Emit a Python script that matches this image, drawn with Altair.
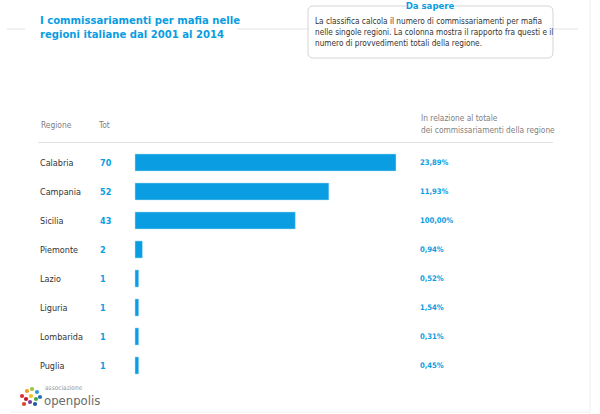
import altair as alt
import pandas as pd

regioni = ["Calabria", "Campania", "Sicilia", "Piemonte", "Lazio", "Liguria", "Lombarida", "Puglia"]
tot = [70, 52, 43, 2, 1, 1, 1, 1]
percentuali = ["23,89%", "11,93%", "100,00%", "0,94%", "0,52%", "1,54%", "0,31%", "0,45%"]

title_lines = ["I commissariamenti per mafia nelle", "regioni italiane dal 2001 al 2014"]
info_lines = [
    "La classifica calcola il numero di commissariamenti per mafia",
    "nelle singole regioni. La colonna mostra il rapporto fra questi e il",
    "numero di provvedimenti totali della regione.",
]
header_pct = ["In relazione al totale", "dei commissariamenti della regione"]

df = pd.DataFrame({"regione": regioni, "tot": tot, "pct": percentuali})

BLUE = "#0a9de2"
NARROW = "DejaVu Sans Condensed, Liberation Sans Narrow, sans-serif"

base = alt.Chart(df)
y = alt.Y("regione:N", sort=regioni, axis=None,
          scale=alt.Scale(domain=regioni, range=[148, 380], paddingInner=0.41, paddingOuter=0.205))

bars = base.mark_bar(color=BLUE, stroke="#bfe6fa", strokeWidth=0.5).encode(
    x=alt.X("tot:Q", axis=None, scale=alt.Scale(domain=[0, 70], range=[135, 396])),
    y=y,
)
lab_reg = base.mark_text(align="left", baseline="middle", font=NARROW, fontSize=9, color="#333333").encode(
    x=alt.value(40), y=y, text="regione:N")
lab_tot = base.mark_text(align="left", baseline="middle", font=NARROW, fontSize=9, fontWeight="bold", color=BLUE).encode(
    x=alt.value(100), y=y, text="tot:Q")
lab_pct = base.mark_text(align="left", baseline="middle", font=NARROW, fontSize=7.6, fontWeight="bold", color=BLUE).encode(
    x=alt.value(420), y=y, text="pct:N")

one = alt.Chart(pd.DataFrame({"a": [0]}))

def txt(text, x, yy, size, color, weight="normal", align="left"):
    return one.mark_text(align=align, baseline="middle", font=NARROW, fontSize=size, color=color,
                         fontWeight=weight).encode(
        x=alt.value(x), y=alt.value(yy), text=alt.value(text))

def rule(x1, x2, y1, y2, color="#e3e3e3", w=1):
    return one.mark_rule(color=color, strokeWidth=w).encode(
        x=alt.value(x1), x2=alt.value(x2), y=alt.value(y1), y2=alt.value(y2))

layers = [
    rule(7, 25, 29, 29),
    rule(237, 578, 29, 29),
    one.mark_rect(fill="white", stroke="#d4d4d4", strokeWidth=1, cornerRadius=5).encode(
        x=alt.value(308), x2=alt.value(553), y=alt.value(6), y2=alt.value(58)),
    one.mark_rect(fill="white").encode(x=alt.value(406), x2=alt.value(455), y=alt.value(0), y2=alt.value(12)),
    txt("Da sapere", 430, 6, 9.5, BLUE, weight="bold", align="center"),
    txt(title_lines[0], 40, 21, 11.2, BLUE, weight="bold"),
    txt(title_lines[1], 40, 35, 11.2, BLUE, weight="bold"),
    txt(info_lines[0], 315, 22, 8.2, "#333333"),
    txt(info_lines[1], 315, 33, 8.2, "#333333"),
    txt(info_lines[2], 315, 44, 8.2, "#333333"),
    txt("Regione", 41, 125, 8.4, "#808080"),
    txt("Tot", 99, 125, 8.4, "#808080"),
    txt(header_pct[0], 421, 119, 8.3, "#808080"),
    txt(header_pct[1], 421, 131, 8.3, "#808080"),
    rule(38, 553, 142.5, 142.5, color="#e0e0e0"),
    rule(590, 590, 0, 414, color="#f0f0f0"),
    rule(10, 590, 412, 412, color="#f0f0f0"),
    bars, lab_reg, lab_tot, lab_pct,
    txt("associazione", 45, 388, 6.5, "#999999"),
    txt("openpolis", 44, 401, 13, "#6a6a6a"),
]

dots = [(22, 396, "#e2312d"), (27, 391, "#f39b1f"), (32, 389, "#9bc43a"), (37, 392, "#2e9bd6"),
        (26, 399, "#c4162a"), (31, 396, "#f2c21a"), (36, 399, "#4aa84a"), (40, 397, "#2a6fb3"),
        (30, 402, "#7a3d98"), (35, 404, "#1e5aa0"), (24, 404, "#d8432c")]
for dx, dy, c in dots:
    layers.append(one.mark_circle(color=c, size=18, opacity=1).encode(x=alt.value(dx), y=alt.value(dy)))

chart = alt.layer(*layers).properties(
    width=600, height=414, padding=0, autosize=alt.AutoSizeParams(type="none"), background="white"
).configure_view(stroke=None)

chart.save("out.html", embed_options={"renderer": "svg", "actions": False})
